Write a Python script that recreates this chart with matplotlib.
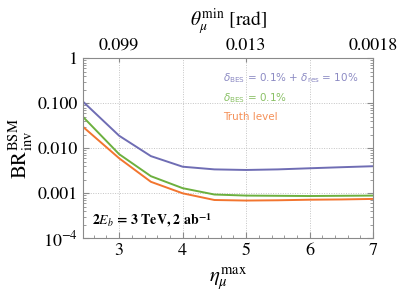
import numpy as np
import matplotlib
matplotlib.use("Agg")
import matplotlib.pyplot as plt
from matplotlib.ticker import FixedLocator, MultipleLocator, NullFormatter

plt.rcParams["font.family"] = "STIXGeneral"
plt.rcParams["mathtext.fontset"] = "stix"

# eta_mu^max grid and BR_inv^BSM reach per scenario
eta = [2.43, 3.0, 3.5, 4.0, 4.5, 5.0, 5.5, 6.0, 6.5, 7.0]
br_bes_res = [0.109, 0.019, 0.0067, 0.0039, 0.0034, 0.0033, 0.0034, 0.0036, 0.0038, 0.0040]
br_bes = [0.050, 0.0074, 0.0024, 0.0013, 0.00094, 0.00089, 0.00088, 0.00087, 0.00088, 0.00089]
br_truth = [0.030, 0.0060, 0.0018, 0.0010, 0.00071, 0.00069, 0.00070, 0.00072, 0.00073, 0.00075]

y_ticks = [1e-4, 1e-3, 1e-2, 1e-1, 1]
y_ticklabels = [r"$10^{-4}$", "0.001", "0.010", "0.100", "1"]
top_ticks = [3, 5, 7]
top_ticklabels = ["0.099", "0.013", "0.0018"]

BLUE = "#6f6db4"
GREEN = "#6cb03e"
ORANGE = "#f2752f"
FRAME = "#8a8a8a"

fig = plt.figure(figsize=(3.99, 2.99), dpi=100)
ax = fig.add_axes([0.208, 0.203, 0.727, 0.602])

ax.plot(eta, br_bes_res, color=BLUE, lw=1.4)
ax.plot(eta, br_bes, color=GREEN, lw=1.4)
ax.plot(eta, br_truth, color=ORANGE, lw=1.4)

ax.set_yscale("log")
ax.set_xlim(2.43, 7.0)
ax.set_ylim(1e-4, 1)
ax.set_yticks(y_ticks)
ax.set_yticklabels(y_ticklabels)
ax.yaxis.set_minor_formatter(NullFormatter())
ax.set_xticks([3, 4, 5, 6, 7])
ax.xaxis.set_minor_locator(MultipleLocator(0.2))

ax.grid(True, which="major", color="#c4c4c4", ls=(0, (1, 1.5)), lw=0.7)
for s in ax.spines.values():
    s.set_color(FRAME)
ax.tick_params(which="both", direction="in", color=FRAME, right=True, labelsize=13)
ax.tick_params(which="major", length=4)
ax.tick_params(which="minor", length=2)

# top axis: corresponding minimum muon angle
top = ax.twiny()
top.set_xlim(ax.get_xlim())
top.xaxis.set_major_locator(FixedLocator(top_ticks))
top.set_xticklabels(top_ticklabels)
top.tick_params(direction="in", length=3, color=FRAME, labelsize=13, pad=3)
for s in top.spines.values():
    s.set_visible(False)
top.set_xlabel(r"$\theta_\mu^{\rm min}$ [rad]", fontsize=14, labelpad=9)

ax.set_xlabel(r"$\eta_\mu^{\rm max}$", fontsize=15, labelpad=4)
ax.set_ylabel(r"${\rm BR}_{\rm inv}^{\rm BSM}$", fontsize=15, labelpad=2)

kw = dict(transform=ax.transAxes, family="DejaVu Sans", math_fontfamily="dejavusans",
          fontsize=7.5, alpha=0.8, va="center", ha="left")
ax.text(0.483, 0.89, r"$\delta_{\mathrm{BES}}$ = 0.1% + $\delta_{\mathrm{res}}$ = 10%",
        color=BLUE, **kw)
ax.text(0.483, 0.78, r"$\delta_{\mathrm{BES}}$ = 0.1%", color=GREEN, **kw)
ax.text(0.483, 0.672, "Truth level", color=ORANGE, **kw)

ax.text(0.03, 0.1, r"$\mathbf{2}\boldsymbol{E_b}$ = 3 TeV, 2 ab$^{\mathbf{-1}}$",
        transform=ax.transAxes, fontsize=10, fontweight="bold", va="center", ha="left")

fig.savefig("out.png", dpi=100)
